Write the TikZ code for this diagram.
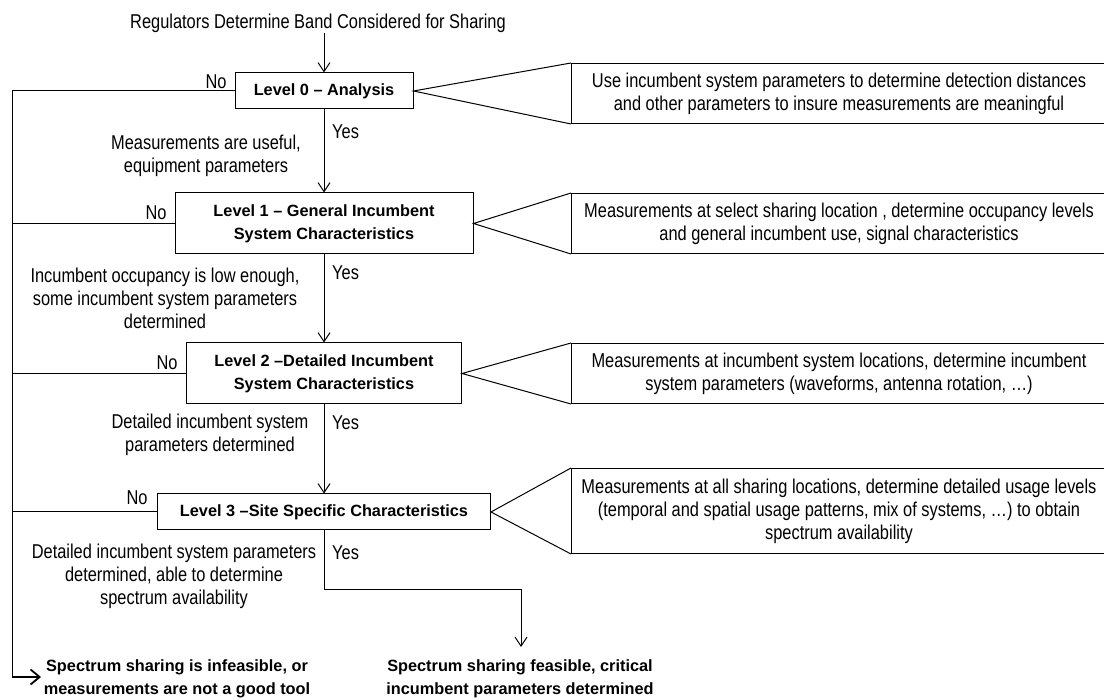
\documentclass[tikz,border=0pt]{standalone}
\usepackage{fontspec}
\setmainfont{Liberation Sans}
\newfontfamily\narrowf[FakeStretch=0.82]{Liberation Sans}
\usetikzlibrary{arrows.meta}
\newcommand\regf{\narrowf\fontsize{20}{23}\selectfont}
\newcommand\boldf{\fontsize{16.3}{23}\selectfont\bfseries}
\begin{document}
\begin{tikzpicture}[x=1pt,y=-1pt,
  lvl/.style={draw, line width=1pt, inner sep=0pt, font=\boldf, align=center},
  callout/.style={draw, line width=1pt, inner sep=0pt, font=\regf, align=center, anchor=north west, minimum width=535pt},
  lbl/.style={font=\regf, align=center, inner sep=0pt},
  fin/.style={font=\boldf, align=center, inner sep=0pt},
  wire/.style={line width=1pt},
  conn/.style={line width=1pt, -{Straight Barb[length=9pt,width=12pt]}},
  bigconn/.style={line width=1.8pt, -{Straight Barb[length=9pt,width=15pt]}}]
\useasboundingbox (0,0) rectangle (1104,700);

% title
\node[lbl] (title) at (318,23) {Regulators Determine Band Considered for Sharing};
\coordinate (ttop) at (324,33);

% level boxes
\node[lvl, minimum width=178pt, minimum height=36pt] (l0) at (324,91) {Level 0 – Analysis};
\node[lvl, minimum width=298pt, minimum height=61pt] (l1) at (324,223.5) {Level 1 – General Incumbent\\System Characteristics};
\node[lvl, minimum width=275pt, minimum height=61pt] (l2) at (324,373.5) {Level 2 –Detailed Incumbent\\System Characteristics};
\node[lvl, minimum width=333pt, minimum height=36pt] (l3) at (324,512) {Level 3 –Site Specific Characteristics};

% callouts
\node[callout, minimum height=60pt] (c0) at (571,63) {Use incumbent system parameters to determine detection distances\\and other parameters to insure measurements are meaningful};
\node[callout, minimum height=60pt] (c1) at (571,193) {Measurements at select sharing location , determine occupancy levels\\and general incumbent use, signal characteristics};
\node[callout, minimum height=60pt] (c2) at (571,343) {Measurements at incumbent system locations, determine incumbent\\system parameters (waveforms, antenna rotation, …)};
\node[callout, minimum height=85pt] (c3) at (571,468) {Measurements at all sharing locations, determine detailed usage levels\\(temporal and spatial usage patterns, mix of systems, …) to obtain\\spectrum availability};

\draw[wire] (c0.north west) -- (l0.east) -- (c0.south west);
\draw[wire] (c1.north west) -- (l1.east) -- (c1.south west);
\draw[wire] (c2.north west) -- (l2.east) -- (c2.south west);
\draw[wire] (c3.north west) -- (l3.east) -- (c3.south west);

% main flow
\draw[conn] (ttop) -- (l0.north);
\draw[conn] (l0.south) -- (l1.north);
\draw[conn] (l1.south) -- (l2.north);
\draw[conn] (l2.south) -- (l3.north);

% yes labels
\node[lbl, anchor=west] (y0) at (332,132) {Yes};
\node[lbl, anchor=west] (y1) at (332,273) {Yes};
\node[lbl, anchor=west] (y2) at (332,423) {Yes};
\node[lbl, anchor=west] (y3) at (332,553) {Yes};

% side labels
\node[lbl] (s0) at (206,155.5) {Measurements are useful,\\equipment parameters};
\node[lbl] (s1) at (165,298.5) {Incumbent occupancy is low enough,\\some incumbent system parameters\\determined};
\node[lbl] (s2) at (210,435) {Detailed incumbent system\\parameters determined};
\node[lbl] (s3) at (174,576.5) {Detailed incumbent system parameters\\determined, able to determine\\spectrum availability};

% no labels
\node[lbl] (n0) at (216,82) {No};
\node[lbl] (n1) at (156,213) {No};
\node[lbl] (n2) at (167,363) {No};
\node[lbl] (n3) at (137,498) {No};

% no trunk
\coordinate (trunk) at (12,0);
\coordinate (bend) at (12,677);
\coordinate (infend) at (41,677);
\draw[wire] (l1.west) -- (l1.west -| trunk);
\draw[wire] (l2.west) -- (l2.west -| trunk);
\draw[wire] (l3.west) -- (l3.west -| trunk);
\draw[wire] (l0.west) -- (l0.west -| trunk) -- (bend);
\draw[bigconn] (bend) -- (infend);

% final outcomes
\node[fin] (infeas) at (177,679) {Spectrum sharing is infeasible, or\\measurements are not a good tool};
\node[fin] (feas) at (520,679) {Spectrum sharing feasible, critical\\incumbent parameters determined};

\coordinate (yb) at (324,589);
\coordinate (yr) at (521,589);
\coordinate (ye) at (521,647);
\draw[wire] (l3.south) -- (yb) -- (yr);
\draw[conn] (yr) -- (ye);
\end{tikzpicture}
\end{document}
